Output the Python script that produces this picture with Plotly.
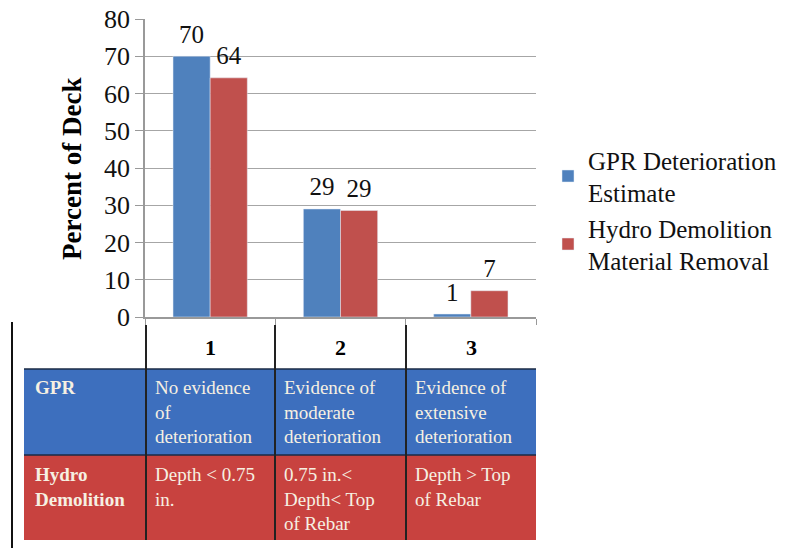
import plotly.graph_objects as go

# ---- data ----
categories = ["1", "2", "3"]
gpr_values = [70, 29, 0.8]
hydro_values = [64.2, 28.6, 7.05]
gpr_labels = ["70", "29", "1"]
hydro_labels = ["64", "29", "7"]
series_names = ["GPR Deterioration<br>Estimate", "Hydro Demolition<br>Material Removal"]
y_ticks = [0, 10, 20, 30, 40, 50, 60, 70, 80]

row_headers = ["GPR", "Hydro<br>Demolition"]
gpr_row = ["No evidence<br>of<br>deterioration", "Evidence of<br>moderate<br>deterioration",
           "Evidence of<br>extensive<br>deterioration"]
hydro_row = ["Depth < 0.75<br>in.", "0.75 in.<<br>Depth< Top<br>of Rebar", "Depth > Top<br>of Rebar"]

W, H = 802, 548
BLUE, RED = "#4f81bd", "#c0504d"
TBL_BLUE, TBL_RED = "#3d6fbe", "#c8423f"
FONT = "Liberation Serif"
CREAM = "#f6f0e2"
BARGAP = 0.43


def px(x):
    return x / W


def py(y):
    return 1 - y / H


def esc(s):
    return s.replace("<br>", "\n").replace("<", "&lt;").replace(">", "&gt;").replace("\n", "<br>")


fig = go.Figure()
for name, vals, color, og in ((series_names[0], gpr_values, BLUE, "a"),
                              (series_names[1], hydro_values, RED, "b")):
    fig.add_trace(go.Bar(x=categories, y=vals, name=name, marker_color=color,
                         offsetgroup=og, hoverinfo="y"))
for vals, labels, og in ((gpr_values, gpr_labels, "a"), (hydro_values, hydro_labels, "b")):
    fig.add_trace(go.Scatter(x=categories, y=vals, text=labels, mode="markers+text",
                             textposition="top center", offsetgroup=og,
                             marker=dict(size=10, opacity=0), showlegend=False,
                             hoverinfo="skip", cliponaxis=False,
                             textfont=dict(family=FONT, size=25, color="#111")))

x0, x1 = 145, 536
y_top, y_bot = 19, 317

fig.update_layout(
    width=W, height=H, margin=dict(l=0, r=0, t=0, b=0, autoexpand=False),
    paper_bgcolor="white", plot_bgcolor="white",
    barmode="group", bargap=BARGAP, bargroupgap=0,
    scattermode="group", scattergap=BARGAP,
    font=dict(family=FONT, color="#111"),
    showlegend=True,
    legend=dict(x=px(548), y=py(137), xanchor="left", yanchor="top",
                font=dict(family=FONT, size=25, color="#111"),
                tracegroupgap=26, bgcolor="rgba(0,0,0,0)"),
    xaxis=dict(domain=[px(x0), px(x1)], showticklabels=False, ticks="outside",
               tickson="boundaries", ticklen=6, tickcolor="#999", showgrid=False,
               showline=True, linecolor="#999", linewidth=1.5, fixedrange=True,
               automargin=False),
    yaxis=dict(domain=[py(y_bot), py(y_top)], range=[0, 80], tickvals=y_ticks,
               ticks="outside", ticklen=8, tickcolor="#999",
               tickfont=dict(family=FONT, size=26, color="#111"),
               showgrid=True, gridcolor="#a6a6a6", gridwidth=1.2, automargin=False,
               showline=True, linecolor="#999", linewidth=1.5, zeroline=False),
)

shapes = []
ann = []

# y-axis title
ann.append(dict(x=px(72), y=py(169), xref="paper", yref="paper", text="<b>Percent of Deck</b>",
                textangle=-90, showarrow=False, font=dict(family=FONT, size=27, color="#000"),
                xanchor="center", yanchor="middle"))

# table
col_edges = [24, 146, 275, 406, 536]
r_head_top, r_blue_top, r_red_top, r_bot = 325, 369, 455, 540

shapes.append(dict(type="rect", xref="paper", yref="paper", x0=px(24), x1=px(536),
                   y0=py(r_red_top), y1=py(r_blue_top), fillcolor=TBL_BLUE, line_width=0, layer="below"))
shapes.append(dict(type="rect", xref="paper", yref="paper", x0=px(24), x1=px(536),
                   y0=py(r_bot), y1=py(r_red_top), fillcolor=TBL_RED, line_width=0, layer="below"))
# left black line
shapes.append(dict(type="line", xref="paper", yref="paper", x0=px(12), x1=px(12),
                   y0=py(322), y1=py(548), line=dict(color="#111", width=2)))
# horizontal separators
for yy in (r_blue_top, r_red_top):
    shapes.append(dict(type="line", xref="paper", yref="paper", x0=px(24), x1=px(536),
                       y0=py(yy), y1=py(yy), line=dict(color="#1a2a44", width=1.5)))
# vertical separators
for xx in col_edges[1:4]:
    shapes.append(dict(type="line", xref="paper", yref="paper", x0=px(xx), x1=px(xx),
                       y0=py(r_head_top), y1=py(r_bot), line=dict(color="#222", width=2)))

# header numbers
for i, c in enumerate(categories):
    cx = (col_edges[i + 1] + col_edges[i + 2]) / 2
    ann.append(dict(x=px(cx), y=py(347), xref="paper", yref="paper", text="<b>%s</b>" % c,
                    showarrow=False, font=dict(family=FONT, size=22, color="#000"),
                    xanchor="center", yanchor="middle"))

# row headers
for txt, ytop in zip(row_headers, (375, 462)):
    ann.append(dict(x=px(33), y=py(ytop), xref="paper", yref="paper", text="<b>%s</b>" % txt,
                    showarrow=False, font=dict(family=FONT, size=19, color=CREAM),
                    xanchor="left", yanchor="top", align="left"))

# cells
for row, ytop in ((gpr_row, 375), (hydro_row, 462)):
    for i, txt in enumerate(row):
        ann.append(dict(x=px(col_edges[i + 1] + 7), y=py(ytop), xref="paper", yref="paper",
                        text=esc(txt), showarrow=False,
                        font=dict(family=FONT, size=19, color=CREAM),
                        xanchor="left", yanchor="top", align="left"))

fig.update_layout(shapes=shapes, annotations=ann)
fig.write_html("out.html", config={"displayModeBar": False},
               post_script="document.body.style.margin='0';")
